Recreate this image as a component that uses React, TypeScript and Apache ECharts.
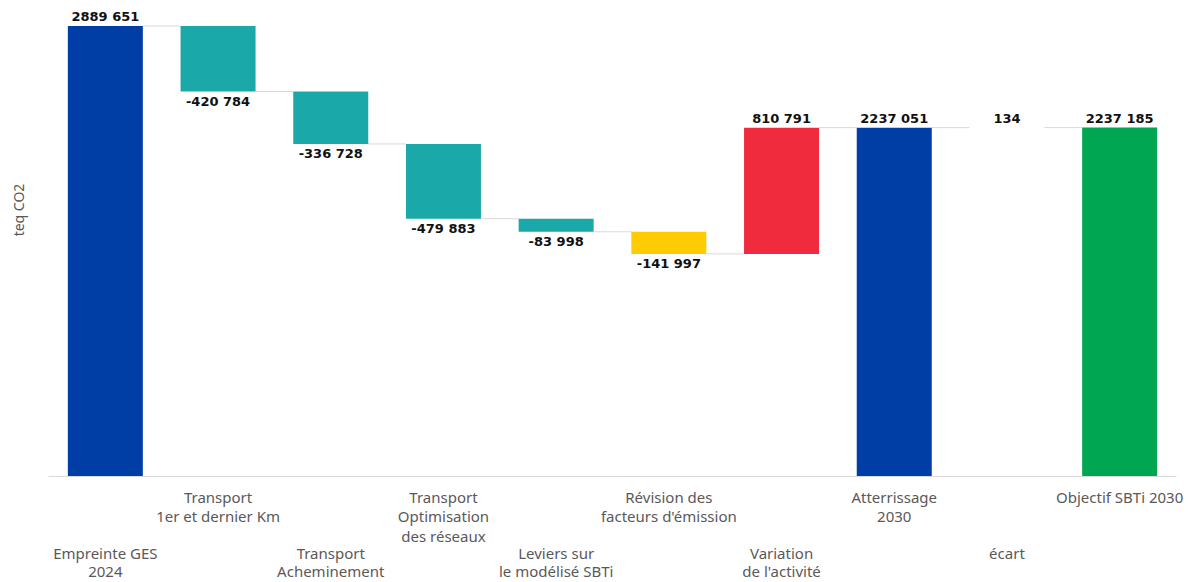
import React, { useEffect, useRef } from "react";
import * as echarts from "echarts";

const categories = [
  "Empreinte GES\n2024",
  "Transport\n1er et dernier Km",
  "Transport\nAcheminement",
  "Transport\nOptimisation\ndes réseaux",
  "Leviers sur\nle modélisé SBTi",
  "Révision des\nfacteurs d'émission",
  "Variation\nde l'activité",
  "Atterrissage\n2030",
  "écart",
  "Objectif SBTi 2030",
];
const values = [2889651, -420784, -336728, -479883, -83998, -141997, 810791, 2237051, 134, 2237185];
const isTotal = [true, false, false, false, false, false, false, true, false, true];
const colors = ["#003da5", "#1ba8a9", "#1ba8a9", "#1ba8a9", "#1ba8a9", "#ffcb05", "#ef2b3d", "#003da5", "#ffffff", "#00a651"];

function fmt(v: number): string {
  const s = Math.abs(v).toString();
  const r = s.length > 3 ? s.slice(0, s.length - 3) + " " + s.slice(s.length - 3) : s;
  return (v < 0 ? "-" : "") + r;
}

export default function App() {
  const ref = useRef<HTMLDivElement>(null);
  useEffect(() => {
    if (!ref.current) return;
    const chart = echarts.init(ref.current, null, { renderer: "svg" });
    const bases: number[] = [];
    const heights: number[] = [];
    const ends: number[] = [];
    let level = 0;
    values.forEach((v, i) => {
      if (isTotal[i]) {
        bases.push(0);
        heights.push(v);
        level = v;
      } else if (v < 0) {
        bases.push(level + v);
        heights.push(-v);
        level = level + v;
      } else {
        bases.push(level);
        heights.push(v);
        level = level + v;
      }
      ends.push(level);
    });
    const maxLevel = Math.max(...bases.map((b, i) => b + heights[i]));
    const barW = 75;

    chart.setOption({
      animation: false,
      grid: { left: 49, right: 16, top: 26, bottom: 106, containLabel: false, outerBoundsMode: "none" },
      xAxis: {
        type: "category",
        data: categories,
        axisTick: { show: false },
        axisLine: { lineStyle: { color: "#d9d9d9", width: 1 } },
        axisLabel: {
          interval: 0,
          color: "#595959",
          fontFamily: "Noto Sans",
          fontSize: 15,
          margin: 11,
          formatter: (val: string, idx: number) => {
            const lines = val.split("\n");
            if (idx % 2 === 0) {
              return "{sp| }\n" + lines.map((l) => "{lo|" + l + "}").join("\n");
            }
            return lines.map((l) => "{up|" + l + "}").join("\n");
          },
          rich: {
            up: { fontFamily: "Noto Sans", fontSize: 15, color: "#595959", lineHeight: 19.5 },
            lo: { fontFamily: "Noto Sans", fontSize: 15, color: "#595959", lineHeight: 18 },
            sp: { fontSize: 2, lineHeight: 57 },
          },
        },
      },
      yAxis: {
        type: "value",
        min: 0,
        max: maxLevel,
        show: false,
        splitLine: { show: false },
      },
      graphic: [
        {
          type: "text",
          x: 18,
          y: 210,
          rotation: Math.PI / 2,
          style: {
            text: "teq CO2",
            fill: "#595959",
            font: "14px 'Noto Sans'",
            textAlign: "center",
            textVerticalAlign: "middle",
          },
        },
      ],
      series: [
        {
          type: "bar",
          stack: "w",
          barWidth: barW,
          silent: true,
          itemStyle: { color: "transparent" },
          data: bases,
        },
        {
          type: "bar",
          stack: "w",
          barWidth: barW,
          data: heights.map((h, i) => ({
            value: h,
            itemStyle: { color: colors[i] },
            label: {
              show: true,
              position: values[i] < 0 ? "bottom" : "top",
              distance: 3,
              formatter: () => fmt(values[i]),
              color: "#111",
              fontFamily: "DejaVu Sans",
              fontWeight: "bold",
              fontSize: 13,
            },
          })),
        },
        {
          type: "custom",
          silent: true,
          z: 1,
          data: ends.slice(0, -1).map((e, i) => [i, e]),
          renderItem: (params: any, api: any) => {
            const i = api.value(0);
            const lv = api.value(1);
            const p1 = api.coord([i, lv]);
            const p2 = api.coord([i + 1, lv]);
            return {
              type: "line",
              shape: { x1: p1[0] + barW / 2, y1: p1[1], x2: p2[0] - barW / 2, y2: p2[1] },
              style: { stroke: "#d9d9d9", lineWidth: 1 },
            };
          },
        },
      ],
    });
    return () => chart.dispose();
  }, []);
  return <div ref={ref} style={{ position: "fixed", left: 0, top: 0, width: 1192, height: 582, background: "#fff" }} />;
}
